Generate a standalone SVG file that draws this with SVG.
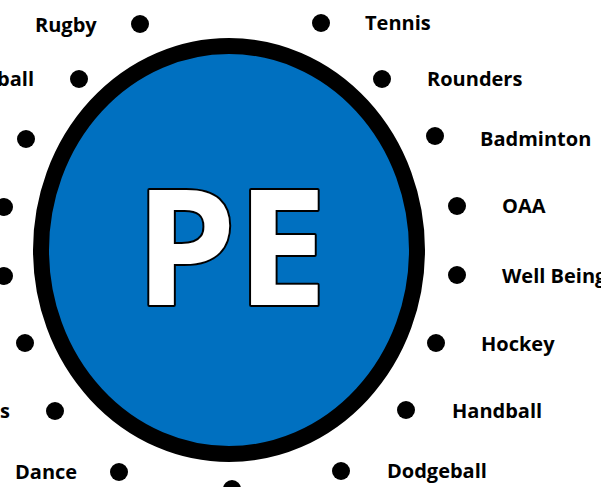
<svg xmlns="http://www.w3.org/2000/svg" width="601" height="487" viewBox="0 0 601 487">
  <style>
    .dot { fill: #000000; }
    .label { font-family: "Open Sans", "Liberation Sans", sans-serif; font-weight: 700; font-size: 20px; fill: #000000; }
    .title { font-family: "Open Sans", "Liberation Sans", sans-serif; font-weight: 700; font-size: 162px; fill: #ffffff; stroke: #000000; stroke-width: 4; paint-order: stroke; stroke-linejoin: round; }
  </style>
  <rect width="601" height="487" fill="#ffffff"/>

  <!-- central PE hub -->
  <g id="hub">
    <ellipse cx="229" cy="250" rx="188" ry="204" fill="#0070C0" stroke="#000000" stroke-width="16"/>
    <text class="title" x="231" y="305" text-anchor="middle">PE</text>
  </g>

  <!-- activities around the hub -->
  <g id="rugby"><circle class="dot" cx="140" cy="24" r="9"/><text class="label" x="35" y="32">Rugby</text></g>
  <g id="ball"><circle class="dot" cx="79" cy="79" r="9"/><text class="label" x="34" y="86" text-anchor="end">ball</text></g>
  <g id="left-1"><circle class="dot" cx="26" cy="139" r="9"/></g>
  <g id="left-2"><circle class="dot" cx="4" cy="207" r="9"/></g>
  <g id="left-3"><circle class="dot" cx="4" cy="276" r="9"/></g>
  <g id="left-4"><circle class="dot" cx="25" cy="343" r="9"/></g>
  <g id="left-5"><circle class="dot" cx="55" cy="411" r="9"/><text class="label" x="10" y="418" text-anchor="end">s</text></g>
  <g id="dance"><circle class="dot" cx="119" cy="472" r="9"/><text class="label" x="15" y="479">Dance</text></g>
  <g id="bottom"><circle class="dot" cx="232" cy="489" r="9"/></g>
  <g id="dodgeball"><circle class="dot" cx="341" cy="471" r="9"/><text class="label" x="387" y="478">Dodgeball</text></g>
  <g id="handball"><circle class="dot" cx="406" cy="410" r="9"/><text class="label" x="452" y="418">Handball</text></g>
  <g id="hockey"><circle class="dot" cx="436" cy="343" r="9"/><text class="label" x="481" y="351">Hockey</text></g>
  <g id="wellbeing"><circle class="dot" cx="457" cy="275" r="9"/><text class="label" x="502" y="283">Well Being</text></g>
  <g id="oaa"><circle class="dot" cx="457" cy="206" r="9"/><text class="label" x="502" y="213">OAA</text></g>
  <g id="badminton"><circle class="dot" cx="435" cy="136" r="9"/><text class="label" x="480" y="146">Badminton</text></g>
  <g id="rounders"><circle class="dot" cx="382" cy="79" r="9"/><text class="label" x="427" y="86">Rounders</text></g>
  <g id="tennis"><circle class="dot" cx="321" cy="23" r="9"/><text class="label" x="365" y="30">Tennis</text></g>

  <g id="connectors"></g>
</svg>
